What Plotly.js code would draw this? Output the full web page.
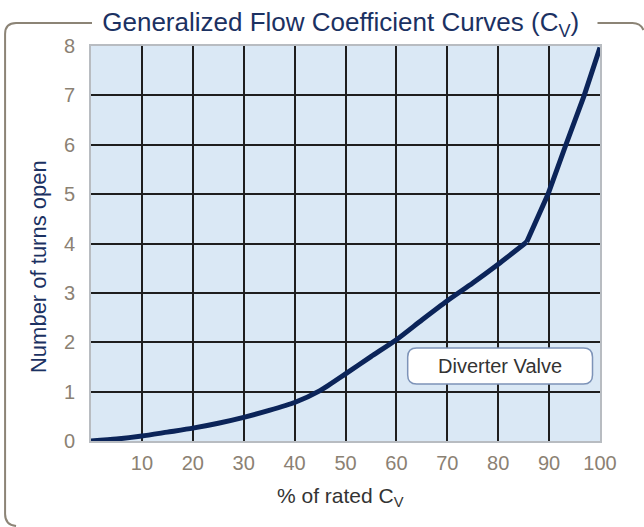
<!DOCTYPE html>
<html>
<head>
<meta charset="utf-8">
<script src="https://cdn.plot.ly/plotly-3.0.1.min.js"></script>
<style>html,body{margin:0;padding:0;background:#fff;}#chart{width:644px;height:527px;}</style>
</head>
<body>
<div id="chart"></div>
<script>
// Data
const pctRatedCv = [0, 5, 10, 15, 20, 25, 30, 35, 40, 45, 50, 55, 60, 65, 70, 75, 80, 85.6, 89.8, 93.3, 96.9, 100];
const turnsOpen  = [0, 0.04, 0.1, 0.18, 0.26, 0.36, 0.48, 0.62, 0.78, 1.02, 1.36, 1.71, 2.05, 2.45, 2.84, 3.2, 3.58, 4.03, 5.0, 6.0, 7.0, 7.97];
const kinkIndex = 17; // curve changes slope sharply at 85.6 %
const xTickVals = [10, 20, 30, 40, 50, 60, 70, 80, 90, 100];
const yTickVals = [0, 1, 2, 3, 4, 5, 6, 7, 8];
const seriesLabel = "Diverter Valve";
const chartTitle = "Generalized Flow Coefficient Curves (C<sub>V</sub>)";
const xTitle = "% of rated C<sub>V</sub>";
const yTitle = "Number of turns open";

// layout geometry (pixels)
const W = 644, H = 527;
const L = 91, R = 600.5, T = 46, B = 441;
const px = x => (x - L) / (R - L);
const py = y => (B - y) / (B - T);

const frameColor = "#8c8476";
const f = "Liberation Sans, Arial, sans-serif";
const curveColor = "#0b2459";

function roundRect(x0, y0, x1, y1, r) {
  const rx = r / (R - L), ry = r / (B - T);
  const a = px(x0), b = px(x1), c = py(y1), d = py(y0);
  return `M ${a+rx},${d} L ${b-rx},${d} Q ${b},${d} ${b},${d-ry} L ${b},${c+ry} Q ${b},${c} ${b-rx},${c} L ${a+rx},${c} Q ${a},${c} ${a},${c+ry} L ${a},${d-ry} Q ${a},${d} ${a+rx},${d} Z`;
}

const shapes = [
  {type: "path", xref: "paper", yref: "paper", layer: "above",
   path: `M ${px(92)},${py(23)} L ${px(16)},${py(23)} Q ${px(5)},${py(23)} ${px(5)},${py(34)} L ${px(5)},${py(514)} Q ${px(5)},${py(525)} ${px(16)},${py(526)}`,
   line: {color: frameColor, width: 2}},
  {type: "path", xref: "paper", yref: "paper", layer: "above",
   path: `M ${px(598)},${py(23)} L ${px(633)},${py(23)} Q ${px(641)},${py(23)} ${px(644)},${py(30)}`,
   line: {color: frameColor, width: 2}},
  {type: "path", xref: "paper", yref: "paper", layer: "above",
   path: roundRect(408, 348, 593, 384, 9),
   fillcolor: "#ffffff", line: {color: "#7d93b8", width: 1.5}}
];

const lower = {
  x: pctRatedCv.slice(0, kinkIndex + 1), y: turnsOpen.slice(0, kinkIndex + 1),
  type: "scatter", mode: "lines",
  line: {color: curveColor, width: 5, shape: "spline", smoothing: 0.6},
  cliponaxis: false, showlegend: false, name: seriesLabel
};
const upper = {
  x: pctRatedCv.slice(kinkIndex), y: turnsOpen.slice(kinkIndex),
  type: "scatter", mode: "lines",
  line: {color: curveColor, width: 5},
  cliponaxis: false, showlegend: false, name: seriesLabel
};

const layout = {
  width: W, height: H,
  margin: {l: L, r: W - R, t: T, b: H - B, pad: 0},
  paper_bgcolor: "#ffffff", plot_bgcolor: "#dae8f5",
  font: {family: f},
  title: {text: chartTitle,
    font: {family: f, size: 26, color: "#1b3162"},
    x: px(341), xref: "paper", xanchor: "center", y: 1 - 22 / H, yref: "container", yanchor: "middle"},
  xaxis: {range: [0, 100], tickvals: xTickVals, ticktext: xTickVals.map(String),
    showgrid: true, gridcolor: "#1e1e1e", gridwidth: 2, zeroline: false,
    showline: true, mirror: true, linecolor: "#b8bcc1", linewidth: 2,
    ticks: "", ticklabelstandoff: 3,
    tickfont: {family: f, size: 20, color: "#8b8173"}},
  yaxis: {range: [0, 8], tickvals: yTickVals, ticktext: yTickVals.map(String),
    showgrid: true, gridcolor: "#1e1e1e", gridwidth: 2, zeroline: false,
    showline: true, mirror: true, linecolor: "#b8bcc1", linewidth: 2,
    ticks: "", ticklabelstandoff: 10,
    tickfont: {family: f, size: 20, color: "#8b8173"}},
  shapes: shapes,
  annotations: [
    {text: seriesLabel, xref: "paper", yref: "paper", x: px(500.5), y: py(366),
     xanchor: "center", yanchor: "middle", showarrow: false,
     font: {family: f, size: 20, color: "#333333"}},
    {text: xTitle, xref: "paper", yref: "paper", x: px(341), y: py(497),
     xanchor: "center", yanchor: "middle", showarrow: false,
     font: {family: f, size: 21, color: "#333333"}},
    {text: yTitle, xref: "paper", yref: "paper", x: px(38), y: py(267),
     xanchor: "center", yanchor: "middle", showarrow: false, textangle: -90,
     font: {family: f, size: 22, color: "#1b3162"}}
  ]
};

Plotly.newPlot("chart", [lower, upper], layout, {displayModeBar: false, staticPlot: true});
</script>
</body>
</html>
